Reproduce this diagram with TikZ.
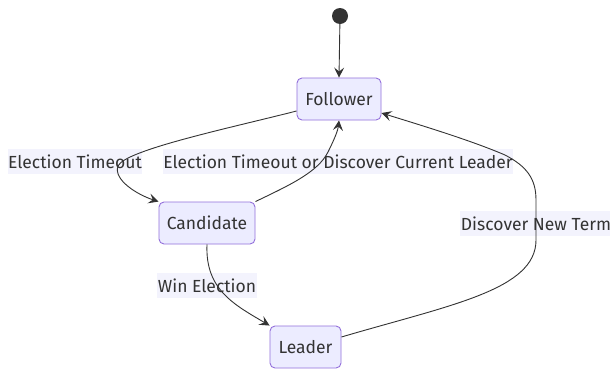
\documentclass[tikz,border=0pt]{standalone}
\usepackage{fontspec}
\setmainfont{Fira Sans}
\usetikzlibrary{arrows.meta}
\definecolor{boxfill}{HTML}{ECECFF}
\definecolor{boxline}{HTML}{9370DB}
\definecolor{ink}{HTML}{333333}
\definecolor{labelbg}{HTML}{F3F3FD}
\tikzset{
  state/.style={draw=boxline, fill=boxfill, line width=0.9pt, rounded corners=5pt,
    minimum height=42pt, inner xsep=0pt, text=ink, font=\fontsize{17.5}{20}\selectfont},
  edgelabel/.style={fill=labelbg, inner xsep=0.5pt, inner ysep=0pt, minimum height=25pt,
    text=ink, font=\fontsize{17.5}{20}\selectfont},
  trans/.style={draw=ink, line width=0.9pt, -{Stealth[length=10pt,width=10pt,inset=4pt]}},
}
\begin{document}
\begin{tikzpicture}[x=1pt,y=-1pt]
\useasboundingbox (0,0) rectangle (610,370);
\fill[white] (0,0) rectangle (610,370);
% states
\node[circle, fill=ink, minimum size=16pt, inner sep=0pt] (start) at (340,16) {};
\node[state, minimum width=84pt] (follower) at (339,99) {Follower};
\node[state, minimum width=96pt] (candidate) at (207,223) {Candidate};
\node[state, minimum width=71pt] (leader) at (305.5,347) {Leader};
% transition labels
\node[edgelabel] (lt1) at (75,161.5) {Election Timeout};
\node[edgelabel] (lt2) at (338,161.5) {Election Timeout or Discover Current Leader};
\node[edgelabel] (lt3) at (536,223.5) {Discover New Term};
\node[edgelabel] (lt4) at (207,285.5) {Win Election};
% transitions
\draw[trans] (start) -- (follower.north);
\draw[trans] (follower.west |- 0,111) .. controls (230,128) and (125,150) .. (118,166)
  .. controls (113,180) and (138,195) .. (candidate.north west);
\draw[trans] (candidate.north east) .. controls (290,185) and (318,172) .. (328,152)
  .. controls (335,138) and (338,130) .. (follower.south);
\draw[trans] (candidate.south) .. controls (205,290) and (235,305) .. (leader.north west);
\draw[trans] (leader.east |- 0,337) .. controls (450,305) and (536,290) .. (536,240)
  -- (536,200) .. controls (536,178) and (526,166) .. (505,155)
  .. controls (470,140) and (420,125) .. (follower.east |- 0,113);
\end{tikzpicture}
\end{document}
